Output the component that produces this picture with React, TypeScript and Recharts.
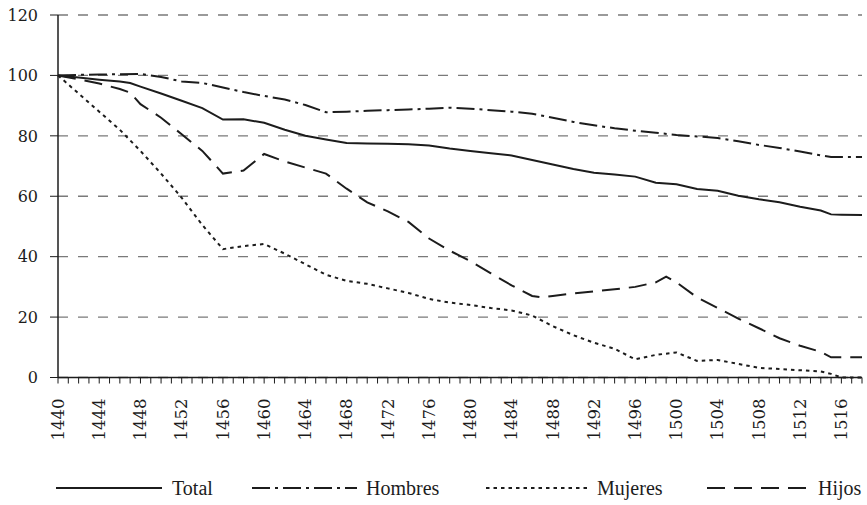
import React from "react";
import { LineChart, Line, XAxis, YAxis, CartesianGrid, Legend } from "recharts";

const years = [1440,1442,1444,1446,1447,1448,1450,1452,1454,1456,1458,1460,1462,1464,1466,1468,1470,1472,1474,1476,1478,1480,1482,1484,1486,1487,1488,1490,1492,1494,1496,1498,1499,1500,1502,1504,1506,1508,1510,1512,1514,1515,1516,1518];
const total =   [100,99.3,98.6,98,97.5,96.3,94,91.6,89.2,85.4,85.5,84.3,82,80,78.8,77.6,77.5,77.4,77.2,76.8,75.8,75,74.2,73.5,72,null,70.5,69,67.8,67.2,66.5,64.5,null,64,62.4,61.8,60.2,59,58,56.5,55.3,54,53.9,53.8];
const hombres = [100,100.2,100.3,100.4,null,100.5,99.5,98,97.5,96,94.5,93.2,92,90.2,87.8,88,88.3,88.5,88.7,89,89.3,89,88.5,88,87.3,null,86,84.6,83.5,82.5,81.7,81,null,80.3,79.8,79.3,78.2,77,76,74.8,73.5,73,73,73];
const mujeres = [100,94,88,82,null,75,67.5,59.5,50.5,42.5,43.5,44.2,41,37.5,34,32,31,29.5,28,26,24.8,24,23,22.2,20.5,null,17,14,11.5,9.5,6,7.5,null,8.3,5.5,5.8,4.5,3.2,2.8,2.4,2,1.2,0,0];
const hijos =   [100,98.7,97.3,95.5,94.3,90.5,86,80.5,75,67.5,68.5,74,71.5,69.5,67.5,62.5,58,55,51.5,46,42,38.5,34.5,30.5,27,26.5,27,27.8,28.5,29.2,30,31.5,33.4,31.5,26.5,23,19.5,16.3,13,10.5,8.5,6.7,6.7,6.7];

const seriesNames = ["Total", "Hombres", "Mujeres", "Hijos"];
const yTicks = [0, 20, 40, 60, 80, 100, 120];
const xTicks: number[] = [];
for (let y = 1440; y <= 1518; y++) xTicks.push(y);

const data = years.map((yr, i) => ({
  year: yr,
  Total: total[i],
  Hombres: hombres[i],
  Mujeres: mujeres[i],
  Hijos: hijos[i],
}));

const dashes: Record<string, string | undefined> = {
  Total: undefined,
  Hombres: "18 5 3 5",
  Mujeres: "3.5 4",
  Hijos: "18 9",
};

const INK = "#1c1c1c";
const SERIF = "'DejaVu Serif', 'Liberation Serif', serif";
const TIMES = "'Liberation Serif', 'Times New Roman', serif";

const XTick = (props: any) => {
  const { x, y, payload } = props;
  if ((payload.value - 1440) % 4 !== 0) return null;
  return (
    <text
      x={x}
      y={y + 13}
      transform={`rotate(-90, ${x}, ${y + 13})`}
      textAnchor="end"
      dy="0.35em"
      fontFamily={SERIF}
      fontSize={16.5}
      fill={INK}
    >
      {payload.value}
    </text>
  );
};

const legendPos = [
  { line: [56, 162], text: 172 },
  { line: [252, 357], text: 366 },
  { line: [486, 590], text: 597 },
  { line: [707, 812], text: 818 },
];

const LegendContent = () => (
  <svg width={867} height={24}>
    {seriesNames.map((name, i) => (
      <g key={name}>
        <line
          x1={legendPos[i].line[0]}
          x2={legendPos[i].line[1]}
          y1={12}
          y2={12}
          stroke={INK}
          strokeWidth={2}
          strokeDasharray={dashes[name]}
        />
        <text
          x={legendPos[i].text}
          y={12}
          dy="0.35em"
          fontFamily={TIMES}
          fontSize={20}
          fill={INK}
        >
          {name}
        </text>
      </g>
    ))}
  </svg>
);

export default function App() {
  return (
    <div style={{ position: "absolute", left: 0, top: 0, background: "#fff" }}>
      <LineChart
        width={867}
        height={505}
        data={data}
        margin={{ top: 15, right: 5, bottom: 47.5, left: 8 }}
      >
        <CartesianGrid
          horizontal={true}
          vertical={false}
          stroke="#7a7a7a"
          strokeWidth={1.3}
          strokeDasharray="10 10"
        />
        <XAxis
          dataKey="year"
          type="number"
          domain={[1440, 1518]}
          ticks={xTicks}
          interval={0}
          height={80}
          tick={<XTick />}
          tickSize={6}
          axisLine={{ stroke: INK, strokeWidth: 1.5 }}
          tickLine={{ stroke: INK, strokeWidth: 1 }}
        />
        <YAxis
          type="number"
          domain={[0, 120]}
          ticks={yTicks}
          width={50}
          tickSize={8}
          tickMargin={12}
          axisLine={{ stroke: INK, strokeWidth: 1.5 }}
          tickLine={{ stroke: INK, strokeWidth: 1 }}
          tick={{ fontFamily: SERIF, fontSize: 16, fill: INK }}
        />
        {seriesNames.map((name) => (
          <Line
            key={name}
            type="linear"
            dataKey={name}
            stroke={INK}
            strokeWidth={2}
            strokeDasharray={dashes[name]}
            dot={false}
            activeDot={false}
            connectNulls
            isAnimationActive={false}
          />
        ))}
        <Legend
          layout="horizontal"
          verticalAlign="middle"
          align="center"
          wrapperStyle={{ top: 476, left: 0, width: 867, height: 24 }}
          content={<LegendContent />}
        />
      </LineChart>
    </div>
  );
}
